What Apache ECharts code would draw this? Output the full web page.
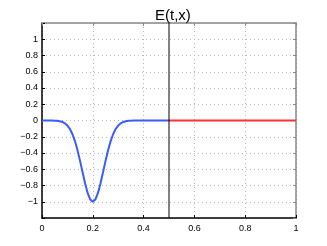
<!DOCTYPE html>
<html><head><meta charset="utf-8">
<script src="https://cdn.jsdelivr.net/npm/echarts@6/dist/echarts.min.js"></script>
<style>html,body{margin:0;padding:0;background:#fff}#c{width:327px;height:246px}</style>
</head><body><div id="c"></div>
<script>
var titleText = 'E(t,x)';
var xLeft = [0,0.01,0.02,0.03,0.04,0.05,0.06,0.07,0.08,0.09,0.10,0.11,0.12,0.13,0.14,0.15,0.16,0.17,0.18,0.19,0.20,0.21,0.22,0.23,0.24,0.25,0.26,0.27,0.28,0.29,0.30,0.31,0.32,0.33,0.34,0.35,0.36,0.37,0.38,0.39,0.40,0.41,0.42,0.43,0.44,0.45,0.46,0.47,0.48,0.49,0.50];
var eLeft = [0,0,0,0,0,-0.002,-0.004,-0.009,-0.018,-0.035,-0.062,-0.105,-0.169,-0.256,-0.368,-0.5,-0.641,-0.779,-0.895,-0.973,-1,-0.973,-0.895,-0.779,-0.641,-0.5,-0.368,-0.256,-0.169,-0.105,-0.062,-0.035,-0.018,-0.009,-0.004,-0.002,0,0,0,0,0,0,0,0,0,0,0,0,0,0,0];
var xRight = [0.5, 1];
var eRight = [0, 0];
var xDivider = [0.5, 0.5];
var yDivider = [-1.2, 1.2];

var chart = echarts.init(document.getElementById('c'), null, {renderer: 'canvas'});
function zip(a, b) { return a.map(function (v, i) { return [v, b[i]]; }); }
function fmt(v) {
  var r = Math.round(v * 10) / 10;
  if (Math.abs(Math.abs(r) - 1.2) < 1e-9) return '';
  var s = String(r);
  return s.replace('-', '\u2212');
}
var font = 'Liberation Sans';
var gridLine = {show: true, lineStyle: {color: '#b8b8b8', type: [1, 3], width: 1}};
chart.setOption({
  animation: false,
  title: {text: titleText, left: 150, top: 3,
    textStyle: {fontFamily: font, fontSize: 15, fontWeight: 'normal', color: '#000'}},
  grid: {left: 42, right: 31, top: 23, bottom: 28, containLabel: false},
  xAxis: [{
    type: 'value', min: 0, max: 1, interval: 0.2, position: 'bottom',
    axisLine: {show: true, onZero: false, lineStyle: {color: '#000', width: 1.5}},
    axisTick: {show: true, inside: true, length: 3, lineStyle: {color: '#000'}},
    axisLabel: {fontFamily: font, fontSize: 9, color: '#000', margin: 6, formatter: fmt},
    splitLine: gridLine
  }, {
    type: 'value', min: 0, max: 1, interval: 0.2, position: 'top',
    axisLine: {show: true, onZero: false, lineStyle: {color: '#888', width: 1.5}},
    axisTick: {show: true, inside: true, length: 3, lineStyle: {color: '#888'}},
    axisLabel: {show: false}, splitLine: {show: false}
  }],
  yAxis: [{
    type: 'value', min: -1.2, max: 1.2, interval: 0.2, position: 'left',
    axisLine: {show: true, onZero: false, lineStyle: {color: '#000', width: 1.5}},
    axisTick: {show: true, inside: true, length: 3, lineStyle: {color: '#000'}},
    axisLabel: {fontFamily: font, fontSize: 9, color: '#000', margin: 4, formatter: fmt},
    splitLine: gridLine
  }, {
    type: 'value', min: -1.2, max: 1.2, interval: 0.2, position: 'right',
    axisLine: {show: true, onZero: false, lineStyle: {color: '#888', width: 1.5}},
    axisTick: {show: true, inside: true, length: 3, lineStyle: {color: '#888'}},
    axisLabel: {show: false}, splitLine: {show: false}
  }],
  series: [{
    type: 'line', data: zip(xLeft, eLeft), showSymbol: false, smooth: false,
    lineStyle: {color: '#3a5cff', width: 2}, z: 3
  }, {
    type: 'line', data: zip(xRight, eRight), showSymbol: false,
    lineStyle: {color: '#ff3333', width: 2}, z: 3
  }, {
    type: 'line', data: zip(xDivider, yDivider), showSymbol: false,
    lineStyle: {color: '#000', width: 1}, z: 4
  }]
});
</script>
</body></html>
